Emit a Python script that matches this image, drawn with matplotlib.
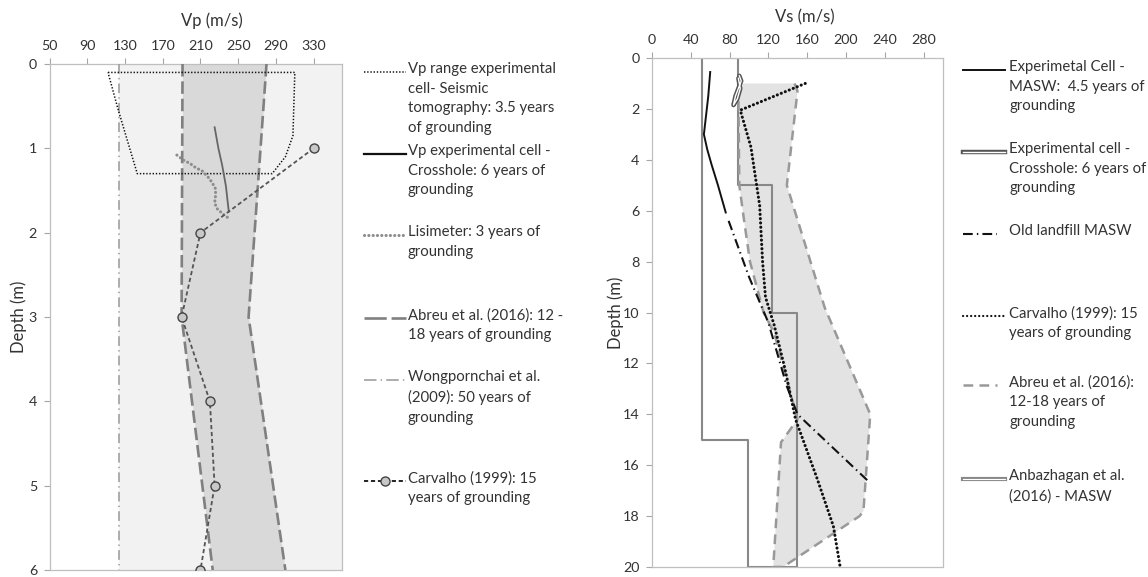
import matplotlib
matplotlib.use("Agg")
import matplotlib.pyplot as plt
from matplotlib.lines import Line2D

plt.rcParams['font.family'] = ['Lato', 'DejaVu Sans']
plt.rcParams['lines.scale_dashes'] = False

# ---------------- data: left chart (Vp) ----------------
vp_ticks = [50, 90, 130, 170, 210, 250, 290, 330]
vp_depth_ticks = [0, 1, 2, 3, 4, 5, 6]

# seismic tomography range (outline of the range)
tomo_vp = [112, 310, 308, 300, 286, 143, 123, 112]
tomo_depth = [0.1, 0.1, 0.85, 1.1, 1.3, 1.3, 0.55, 0.1]

# crosshole experimental cell
xh_vp = [225, 229, 233, 237, 240]
xh_depth = [0.75, 1.0, 1.2, 1.45, 1.75]

# lisimeter
lis_vp = [185, 192, 199, 205, 212, 218, 222, 226, 226, 225, 228, 234, 240]
lis_depth = [1.08, 1.14, 1.18, 1.23, 1.27, 1.34, 1.4, 1.48, 1.56, 1.65, 1.72, 1.78, 1.83]

# Abreu et al. (2016) range
abreu_vp_depth = [0, 3, 6]
abreu_vp_min = [191, 190, 223]
abreu_vp_max = [280, 261, 300]

# Wongpornchai et al. (2009) range
wong_depth = [0, 6]
wong_min = [124, 124]
wong_max = [360, 360]

# Carvalho (1999)
carv_vp_depth = [1, 2, 3, 4, 5, 6]
carv_vp = [330, 210, 190, 220, 225, 210]

# ---------------- data: right chart (Vs) ----------------
vs_ticks = [0, 40, 80, 120, 160, 200, 240, 280]
vs_depth_ticks = list(range(0, 21, 2))

masw_vs = [60, 58, 55, 53.5, 57, 61.5, 68, 76]
masw_depth = [0.55, 1.5, 2.5, 3.0, 3.6, 4.2, 5.0, 6.07]

xhs_vs = [90, 92, 89, 86, 84, 88, 91, 89]
xhs_depth = [0.7, 0.9, 1.2, 1.5, 1.85, 1.6, 1.2, 0.8]

old_vs = [79, 100, 120, 139, 150, 225]
old_depth = [6.4, 8.6, 10.4, 12.9, 14.0, 16.7]

carv_vs = [158, 91, 102, 111, 114, 117, 126, 137, 148, 170, 187, 194]
carv_vs_depth = [1, 2.05, 3.5, 5.8, 8, 9.4, 10.5, 12.2, 14.2, 16.5, 18.4, 20]

# Abreu et al. (2016) Vs range, max side top-down then min side bottom-up
abreu_max_vs = [147, 150, 139, 178, 225, 218, 214, 135]
abreu_max_depth = [1, 1.3, 5, 9.8, 14, 17.8, 18, 20]
abreu_min_vs = [125, 133, 150, 138, 126, 115, 101, 95, 90, 89, 89]
abreu_min_depth = [20, 15.1, 14.2, 12.5, 10.8, 10, 8, 6.4, 5, 1.3, 1]

anb_vs = [52, 89, 89, 124, 124, 149, 149, 99, 99, 52, 52]
anb_depth = [0, 0, 5, 5, 10, 10, 20, 20, 15, 15, 0]

W, H = 1148, 577
fig = plt.figure(figsize=(W / 100, H / 100), dpi=100)

txt = '#333333'
spine_c = '#bfbfbf'
fs = 10.7


def px(x0, y0, x1, y1):
    return [x0 / W, 1 - y1 / H, (x1 - x0) / W, (y1 - y0) / H]


def style_axes(ax, xlabel, label_xy, ylabel, ylabel_xy):
    ax.xaxis.tick_top()
    ax.tick_params(axis='both', direction='out', length=4, width=0.8, color='#a6a6a6',
                   labelcolor=txt, labelsize=10.3, pad=5)
    for s in ax.spines.values():
        s.set_color(spine_c)
        s.set_linewidth(0.9)
    ax.set_xlabel(xlabel, fontsize=12, color=txt)
    ax.xaxis.set_label_position('top')
    ax.xaxis.set_label_coords(*label_xy)
    ax.xaxis.label.set_va('center')
    ax.set_ylabel(ylabel, fontsize=12, color=txt)
    ax.yaxis.set_label_coords(*ylabel_xy)
    ax.yaxis.label.set_va('center')


# ---------------- left chart ----------------
ax1 = fig.add_axes(px(49.5, 64, 342, 570))
ax1.fill_betweenx(wong_depth, wong_min, wong_max, color='#f2f2f2', lw=0, zorder=1)
ax1.fill_betweenx(abreu_vp_depth, abreu_vp_min, abreu_vp_max, color='#d9d9d9', lw=0, zorder=2)
ax1.plot(wong_min, wong_depth, color='#a0a0a0', lw=1.2, ls=(0, (7, 3, 1, 3)), zorder=3)
for edge in (abreu_vp_min, abreu_vp_max):
    ax1.plot(edge, abreu_vp_depth, color='#808080', lw=1.9, ls=(0, (9, 3.5)), zorder=3)
ax1.plot(tomo_vp, tomo_depth, color='#111111', lw=1.1, ls=(0, (1, 1.3)), zorder=4)
ax1.plot(xh_vp, xh_depth, color='#666666', lw=1.3, zorder=4)
ax1.plot(lis_vp, lis_depth, color='#8c8c8c', lw=2.2, ls=(0, (0.1, 3)),
         dash_capstyle='round', zorder=4)
ax1.plot(carv_vp, carv_vp_depth, color='#555555', lw=1.3, ls=(0, (3, 2)),
         marker='o', ms=6.5, mfc='#c8c8c8', mec='#444444', mew=1.0, zorder=5)
ax1.set_xlim(50, 360)
ax1.set_ylim(6, 0)
ax1.set_xticks(vp_ticks)
ax1.set_yticks(vp_depth_ticks)
style_axes(ax1, 'Vp (m/s)', (0.554, 1.085), 'Depth (m)', (-0.106, 0.5))

# ---------------- right chart ----------------
ax2 = fig.add_axes(px(652, 58, 943, 567))
ax2.fill(abreu_max_vs + abreu_min_vs, abreu_max_depth + abreu_min_depth,
         color='#e3e3e3', lw=0, zorder=1)
ax2.plot(abreu_max_vs + abreu_min_vs, abreu_max_depth + abreu_min_depth,
         color='#999999', lw=1.8, ls=(0, (7, 4.5)), zorder=3)
ax2.plot(anb_vs, anb_depth, color='#888888', lw=1.5, zorder=2)
ax2.plot(masw_vs, masw_depth, color='#111111', lw=1.4, zorder=4)
ax2.plot(xhs_vs, xhs_depth, color='#555555', lw=3.2, zorder=4, solid_capstyle='round')
ax2.plot(xhs_vs, xhs_depth, color='white', lw=1.0, zorder=4)
ax2.plot(old_vs, old_depth, color='#111111', lw=1.5, ls=(0, (7, 3, 1, 3)), zorder=4)
ax2.plot(carv_vs, carv_vs_depth, color='#111111', lw=2.2, ls=(0, (0.1, 3.0)),
         dash_capstyle='round', zorder=5)
ax2.set_xlim(0, 300)
ax2.set_ylim(20, 0)
ax2.set_xticks(vs_ticks)
ax2.set_yticks(vs_depth_ticks)
style_axes(ax2, 'Vs (m/s)', (0.525, 1.08), 'Depth (m)', (-0.123, 0.5))


# ---------------- legends (figure pixel positions) ----------------
def legend_entry(x0, x1, tx, y, label, **line_kw):
    fy = 1 - y / H
    under = line_kw.pop('under', None)
    if under is not None:
        fig.add_artist(Line2D([x0 / W, x1 / W], [fy, fy], transform=fig.transFigure, **under))
    fig.add_artist(Line2D([x0 / W, x1 / W], [fy, fy], transform=fig.transFigure, **line_kw))
    fig.text(tx / W, 1 - (y - 10) / H, label, ha='left', va='top', fontsize=fs,
             color=txt, linespacing=1.52)


lx0, lx1, ltx = 364, 406, 408
legend_entry(lx0, lx1, ltx, 72, 'Vp range experimental\ncell- Seismic\ntomography: 3.5 years\nof grounding',
             color='#111111', lw=1.1, ls=(0, (1, 1.3)))
legend_entry(lx0, lx1, ltx, 154, 'Vp experimental cell -\nCrosshole: 6 years of\ngrounding',
             color='#111111', lw=1.6)
legend_entry(lx0, lx1, ltx, 235, 'Lisimeter: 3 years of\ngrounding',
             color='#8c8c8c', lw=2.2, ls=(0, (0.1, 3)), dash_capstyle='round')
legend_entry(lx0, lx1, ltx, 318, 'Abreu et al. (2016): 12 -\n18 years of grounding',
             color='#808080', lw=1.9, ls=(0, (16, 3.5)))
legend_entry(lx0, lx1, ltx, 380, 'Wongpornchai et al.\n(2009): 50 years of\ngrounding',
             color='#a0a0a0', lw=1.2, ls=(0, (9, 3, 1, 3)))
legend_entry(lx0, lx1, ltx, 481, 'Carvalho (1999): 15\nyears of grounding',
             color='#111111', lw=1.3, ls=(0, (3, 2)))
fig.add_artist(Line2D([(lx0 + lx1) / 2 / W], [1 - 481 / H], transform=fig.transFigure,
                      marker='o', ms=6.5, mfc='#c8c8c8', mec='#444444', mew=1.0, ls='none'))

rx0, rx1, rtx = 963, 1005, 1009
legend_entry(rx0, rx1, rtx, 70, 'Experimetal Cell -\nMASW:  4.5 years of\ngrounding',
             color='#111111', lw=1.4)
legend_entry(rx0, rx1, rtx, 152, 'Experimental cell -\nCrosshole: 6 years of\ngrounding',
             color='white', lw=1.0, under=dict(color='#555555', lw=3.2))
legend_entry(rx0, 997, rtx, 234, 'Old landfill MASW',
             color='#111111', lw=1.5, ls=(0, (7, 3, 1, 3)))
legend_entry(rx0, rx1, rtx, 316, 'Carvalho (1999): 15\nyears of grounding',
             color='#111111', lw=1.6, ls=(0, (0.1, 2.8)), dash_capstyle='round')
legend_entry(rx0, 997, rtx, 385, 'Abreu et al. (2016):\n12-18 years of\ngrounding',
             color='#999999', lw=1.8, ls=(0, (7, 4.5)))
legend_entry(rx0, rx1, rtx, 479, 'Anbazhagan et al.\n(2016) - MASW',
             color='#ffffff', lw=0.8, under=dict(color='#888888', lw=3.0))

fig.savefig('out.png', dpi=100)
